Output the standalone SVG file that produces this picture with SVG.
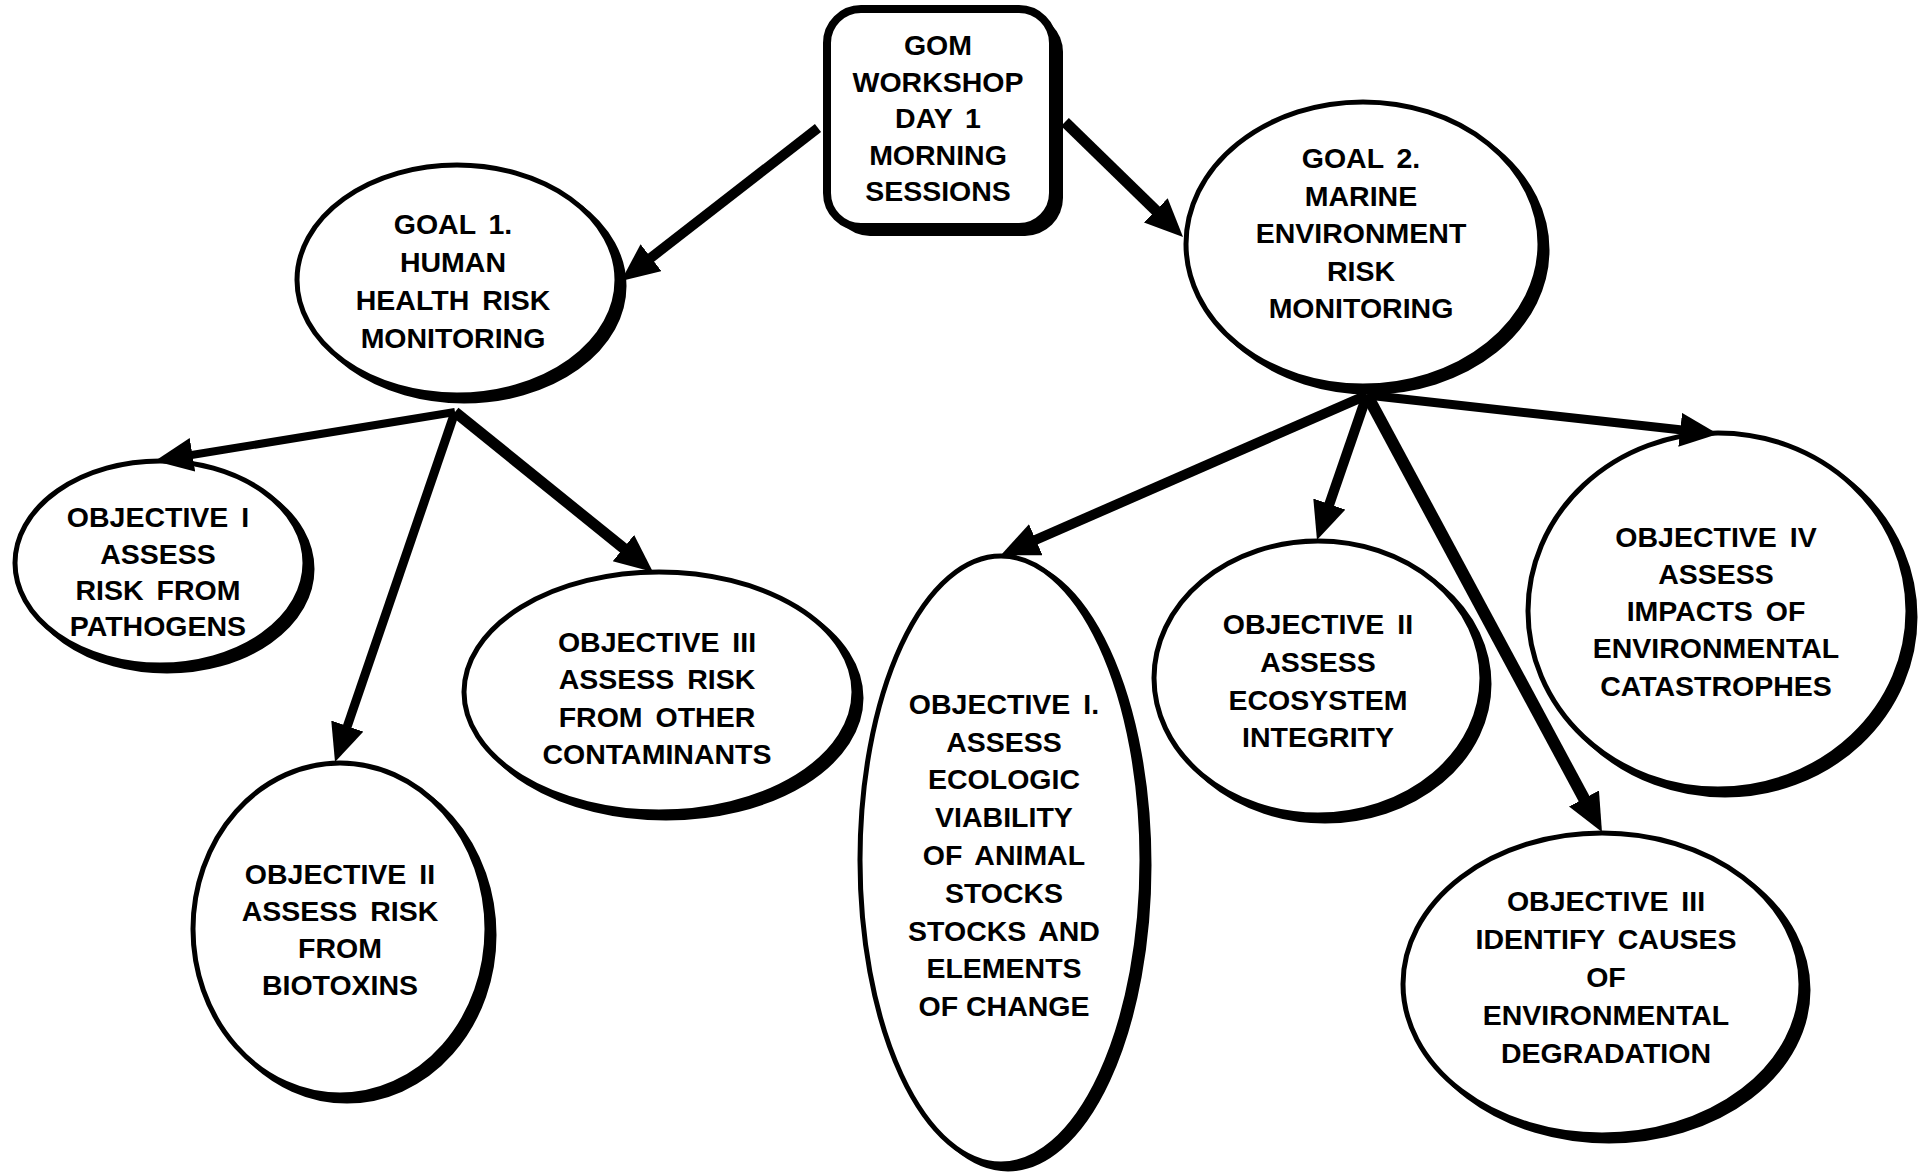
<svg xmlns="http://www.w3.org/2000/svg" width="1925" height="1173" viewBox="0 0 1925 1173">
<style>
.sh{fill:#000;stroke:#000;stroke-width:5}
.nd{fill:#fff;stroke:#000;stroke-width:5}
.t{font-family:"Liberation Sans",Arial,sans-serif;font-weight:bold;font-size:28.5px;fill:#000;text-anchor:middle;word-spacing:5px}
.c{fill:none;stroke:#000;stroke-linecap:butt}
</style>
<defs>
<marker id="ah" markerUnits="userSpaceOnUse" markerWidth="40" markerHeight="36" refX="18" refY="17" orient="auto" viewBox="0 0 40 36">
<path d="M0,0 L38,17 L0,34 z" fill="#000"/>
</marker>
</defs>
<rect width="1925" height="1173" fill="#fff"/>

<g id="node-gom">
<rect x="832" y="14" width="231" height="222" rx="38" fill="#000"/>
<rect x="827" y="9" width="226" height="218" rx="34" fill="#fff" stroke="#000" stroke-width="8"/>
<text class="t" x="938" y="55">GOM</text>
<text class="t" x="938" y="92">WORKSHOP</text>
<text class="t" x="938" y="128">DAY 1</text>
<text class="t" x="938" y="165">MORNING</text>
<text class="t" x="938" y="201">SESSIONS</text>
</g>

<g id="node-goal1">
<ellipse class="sh" cx="464" cy="286" rx="160" ry="115"/>
<ellipse class="nd" cx="457" cy="280" rx="160" ry="115"/>
<text class="t" x="453" y="234">GOAL 1.</text>
<text class="t" x="453" y="272">HUMAN</text>
<text class="t" x="453" y="310">HEALTH RISK</text>
<text class="t" x="453" y="348">MONITORING</text>
</g>

<g id="node-goal2">
<ellipse class="sh" cx="1370" cy="250" rx="177" ry="142"/>
<ellipse class="nd" cx="1363" cy="244" rx="177" ry="142"/>
<text class="t" x="1361" y="168">GOAL 2.</text>
<text class="t" x="1361" y="206">MARINE</text>
<text class="t" x="1361" y="243">ENVIRONMENT</text>
<text class="t" x="1361" y="281">RISK</text>
<text class="t" x="1361" y="318">MONITORING</text>
</g>

<g id="node-g1-obj1">
<ellipse class="sh" cx="167" cy="569" rx="145" ry="102"/>
<ellipse class="nd" cx="160" cy="563" rx="145" ry="102"/>
<text class="t" x="158" y="527">OBJECTIVE I</text>
<text class="t" x="158" y="564">ASSESS</text>
<text class="t" x="158" y="600">RISK FROM</text>
<text class="t" x="158" y="636">PATHOGENS</text>
</g>

<g id="node-g1-obj2">
<ellipse class="sh" cx="347" cy="935" rx="147" ry="166"/>
<ellipse class="nd" cx="340" cy="929" rx="147" ry="166"/>
<text class="t" x="340" y="884">OBJECTIVE II</text>
<text class="t" x="340" y="921">ASSESS RISK</text>
<text class="t" x="340" y="958">FROM</text>
<text class="t" x="340" y="995">BIOTOXINS</text>
</g>

<g id="node-g1-obj3">
<ellipse class="sh" cx="666" cy="698" rx="195" ry="120"/>
<ellipse class="nd" cx="659" cy="692" rx="195" ry="120"/>
<text class="t" x="657" y="652">OBJECTIVE III</text>
<text class="t" x="657" y="689">ASSESS RISK</text>
<text class="t" x="657" y="727">FROM OTHER</text>
<text class="t" x="657" y="764">CONTAMINANTS</text>
</g>

<g id="node-g2-obj1">
<ellipse class="sh" cx="1008" cy="865" rx="141" ry="304"/>
<ellipse class="nd" cx="1001" cy="860" rx="141" ry="304"/>
<text class="t" x="1004" y="714">OBJECTIVE I.</text>
<text class="t" x="1004" y="752">ASSESS</text>
<text class="t" x="1004" y="789">ECOLOGIC</text>
<text class="t" x="1004" y="827">VIABILITY</text>
<text class="t" x="1004" y="865">OF ANIMAL</text>
<text class="t" x="1004" y="903">STOCKS</text>
<text class="t" x="1004" y="941">STOCKS AND</text>
<text class="t" x="1004" y="978">ELEMENTS</text>
<text class="t" x="1004" y="1016" style="word-spacing:0">OF CHANGE</text>
</g>

<g id="node-g2-obj2">
<ellipse class="sh" cx="1325" cy="684" rx="164" ry="137"/>
<ellipse class="nd" cx="1318" cy="678" rx="164" ry="137"/>
<text class="t" x="1318" y="634">OBJECTIVE II</text>
<text class="t" x="1318" y="672">ASSESS</text>
<text class="t" x="1318" y="710">ECOSYSTEM</text>
<text class="t" x="1318" y="747">INTEGRITY</text>
</g>

<g id="node-g2-obj4">
<ellipse class="sh" cx="1725" cy="617" rx="190" ry="178"/>
<ellipse class="nd" cx="1718" cy="611" rx="190" ry="178"/>
<text class="t" x="1716" y="547">OBJECTIVE IV</text>
<text class="t" x="1716" y="584">ASSESS</text>
<text class="t" x="1716" y="621">IMPACTS OF</text>
<text class="t" x="1716" y="658">ENVIRONMENTAL</text>
<text class="t" x="1716" y="696">CATASTROPHES</text>
</g>

<g id="node-g2-obj3">
<ellipse class="sh" cx="1609" cy="990" rx="199" ry="151"/>
<ellipse class="nd" cx="1602" cy="984" rx="199" ry="151"/>
<text class="t" x="1606" y="911">OBJECTIVE III</text>
<text class="t" x="1606" y="949">IDENTIFY CAUSES</text>
<text class="t" x="1606" y="987">OF</text>
<text class="t" x="1606" y="1025">ENVIRONMENTAL</text>
<text class="t" x="1606" y="1063">DEGRADATION</text>
</g>

<g id="connectors">
<line class="c" x1="818" y1="128" x2="636.8" y2="268.7" stroke-width="10" marker-end="url(#ah)"/>
<line class="c" x1="1065" y1="122" x2="1168.7" y2="223" stroke-width="11" marker-end="url(#ah)"/>
<line class="c" x1="455" y1="412" x2="174.7" y2="457.8" stroke-width="8" marker-end="url(#ah)"/>
<line class="c" x1="455" y1="412" x2="341.5" y2="743.1" stroke-width="9" marker-end="url(#ah)"/>
<line class="c" x1="455" y1="412" x2="637.4" y2="559.4" stroke-width="11" marker-end="url(#ah)"/>
<line class="c" x1="1367" y1="395" x2="1019.3" y2="547" stroke-width="10" marker-end="url(#ah)"/>
<line class="c" x1="1367" y1="395" x2="1323.5" y2="521.1" stroke-width="10" marker-end="url(#ah)"/>
<line class="c" x1="1367" y1="395" x2="1592.5" y2="814.4" stroke-width="12" marker-end="url(#ah)"/>
<line class="c" x1="1367" y1="395" x2="1698.1" y2="431.8" stroke-width="9" marker-end="url(#ah)"/>
</g>
</svg>
